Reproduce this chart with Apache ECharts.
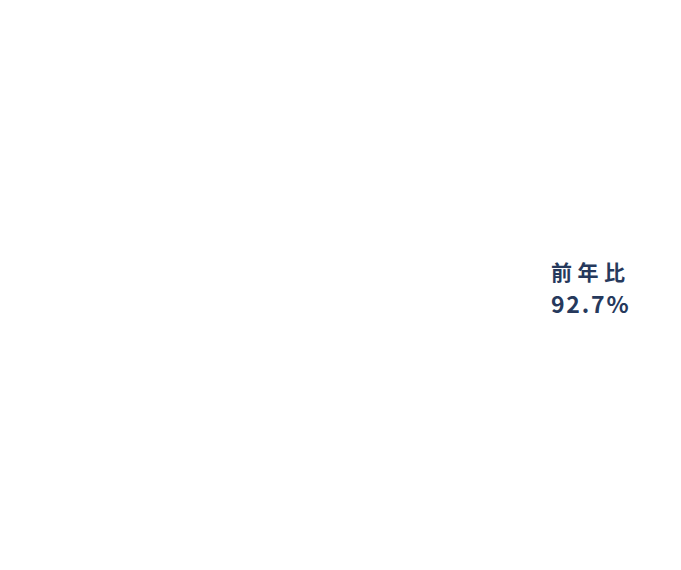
<!DOCTYPE html>
<html>
<head>
<meta charset="utf-8">
<script src="https://cdn.jsdelivr.net/npm/echarts@6/dist/echarts.min.js"></script>
<style>
  html, body { margin: 0; padding: 0; background: #fff; }
  #chart { width: 681px; height: 570px; }
</style>
</head>
<body>
<div id="chart"></div>
<script>
// 前年比の値
var yoyLabel = ['前年比'];
var yoyValue = [92.7];

var textColor = '#26395c';
var fontFamily = '"Noto Sans CJK JP", "Noto Sans", sans-serif';

var myChart = echarts.init(document.getElementById('chart'), null, {renderer: 'svg'});
var option = {
    backgroundColor: '#fff',
    graphic: [
        {
            type: 'text',
            left: 551,
            top: 260,
            style: {
                text: yoyLabel[0],
                fill: textColor,
                font: 'bold 21px ' + fontFamily
            }
        },
        {
            type: 'text',
            left: 551,
            top: 291,
            style: {
                text: yoyValue[0].toFixed(1) + '%',
                fill: textColor,
                font: 'bold 23px ' + fontFamily
            }
        }
    ]
};
myChart.setOption(option);

// 字間 (SVG側で指定)
var spacing = ['5.5px', '1.8px'];
var texts = document.querySelectorAll('#chart text');
for (var i = 0; i < texts.length; i++) {
    texts[i].style.letterSpacing = spacing[i] || '3px';
}
</script>
</body>
</html>
